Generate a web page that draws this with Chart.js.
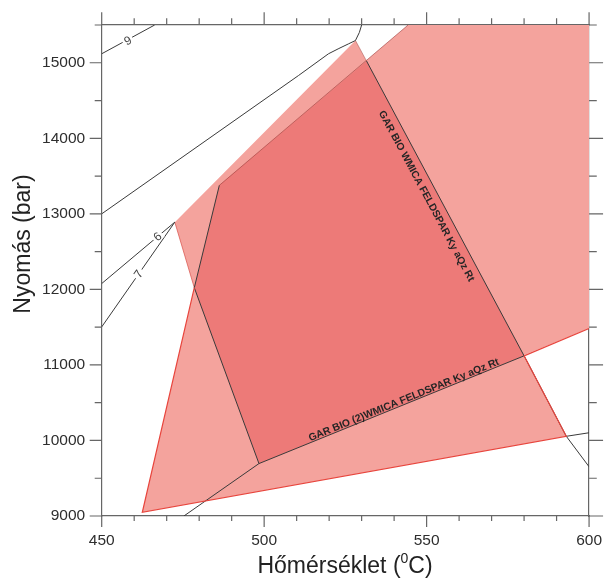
<!DOCTYPE html>
<html>
<head>
<meta charset="utf-8">
<script src="https://cdn.jsdelivr.net/npm/chart.js@4.4.0/dist/chart.umd.min.js"></script>
<style>
  html, body { margin: 0; padding: 0; background: #fff; }
</style>
</head>
<body>
<canvas id="pt" width="606" height="579"></canvas>
<script>
// axis ticks
const xMajorTicks = [450, 500, 550, 600];
const xMinorTicks = [460, 470, 480, 490, 510, 520, 530, 540, 560, 570, 580, 590];
const yMajorTicks = [9000, 10000, 11000, 12000, 13000, 14000, 15000];
const yMinorTicks = [9500, 10500, 11500, 12500, 13500, 14500, 15500];

// coloured fields (T in °C, P in bar)
const fieldA_T = [462.5, 478.5, 472.5, 528.1, 593.0];
const fieldA_P = [9049, 12022, 12890, 15295, 10055];
const fieldB_T = [498.4, 478.5, 486.2, 544.3, 600, 600];
const fieldB_P = [9694, 12022, 13377, 15500, 15500, 11482];
const overlap_T = [498.4, 478.5, 486.2, 531.5, 580.0];
const overlap_P = [9694, 12022, 13377, 15024, 11120];

// phase boundary lines
const iso9_T = [450, 466.3];
const iso9_P = [15119, 15500];
const iso6_T = [450, 472.5];
const iso6_P = [12077, 12890];
const iso7_T = [450, 472.5];
const iso7_P = [11503, 12890];
const upper_T = [450, 510.6, 519.8, 523.0, 525.9, 528.1, 529.3, 530.0];
const upper_P = [13000, 14832, 15119, 15189, 15249, 15295, 15401, 15500];
const lower_T = [475.3, 498.4, 580.0];
const lower_P = [9000, 9694, 11120];
const leftLine_T = [498.4, 478.5, 486.2];
const leftLine_P = [9694, 12022, 13377];
const wmica_T = [531.5, 580.0, 593.0, 600];
const wmica_P = [15024, 11120, 10055, 9652];
const rightLow_T = [593.0, 600];
const rightLow_P = [10055, 10102];

// field edges
const redA_T = [478.5, 462.5, 593.0, 580.0];
const redA_P = [12022, 9049, 10055, 11120];
const redB_T = [580.0, 600];
const redB_P = [11120, 11482];
const faint_T = [472.5, 478.5];
const faint_P = [12890, 12022];
const faintB_T = [486.2, 544.3];
const faintB_P = [13377, 15500];
const faintA_T = [528.1, 531.5];
const faintA_P = [15295, 15024];

// labels
const isoLabels = ['9', '6', '7'];
const isoLabel_T = [458.1, 467.3, 461.5];
const isoLabel_P = [15286, 12694, 12200];
const fieldLabels = ['GAR BIO WMICA FELDSPAR Ky aQz Rt', 'GAR BIO (2)WMICA FELDSPAR Ky aQz Rt'];
const fieldLabel_T = [549.9, 543.0];
const fieldLabel_P = [13234, 10534];

const xTitle = ['Hőmérséklet (', '0', 'C)'];
const yTitle = 'Nyomás (bar)';

const axisColor = '#666';
const lineColor = '#3a3a3a';
const redEdge = '#e8453d';
const fontFam = '"Liberation Sans", Arial, sans-serif';

function pts(xs, ys) {
  return xs.map((v, i) => ({ x: v, y: ys[i] }));
}
function lineSet(xs, ys, color, width) {
  return { data: pts(xs, ys), borderColor: color, borderWidth: width, pointRadius: 0, fill: false, tension: 0 };
}
function fieldSet(xs, ys, color) {
  return { data: pts(xs.concat(xs[0]), ys.concat(ys[0])), borderColor: 'rgba(0,0,0,0)', borderWidth: 0,
           backgroundColor: color, pointRadius: 0, fill: 'shape', tension: 0 };
}

// ticks on all four sides + axis titles
const frameTicks = {
  id: 'frameTicks',
  afterDraw(chart) {
    const { ctx, chartArea: a } = chart;
    const xs = chart.scales.x, ys = chart.scales.y;
    ctx.save();
    ctx.strokeStyle = axisColor;
    ctx.lineWidth = 1.2;
    ctx.beginPath();
    const xTick = (t, lb, lt) => {
      const p = xs.getPixelForValue(t);
      ctx.moveTo(p, a.bottom); ctx.lineTo(p, a.bottom + lb);
      ctx.moveTo(p, a.top); ctx.lineTo(p, a.top - lt);
    };
    const yTick = (v, ll, lr) => {
      const p = ys.getPixelForValue(v);
      ctx.moveTo(a.left, p); ctx.lineTo(a.left - ll, p);
      ctx.moveTo(a.right, p); ctx.lineTo(a.right + lr, p);
    };
    xMajorTicks.forEach(t => xTick(t, 11, 12.7));
    xMinorTicks.forEach(t => xTick(t, 5, 6.7));
    yMajorTicks.forEach(v => yTick(v, 12, 14));
    yMinorTicks.forEach(v => yTick(v, 7, 7.7));
    ctx.stroke();

    ctx.fillStyle = '#222';
    ctx.font = '23px ' + fontFam;
    ctx.save();
    ctx.translate(29.5, 244);
    ctx.rotate(-Math.PI / 2);
    ctx.textAlign = 'center';
    ctx.textBaseline = 'alphabetic';
    ctx.fillText(yTitle, 0, 0);
    ctx.restore();

    const supFont = '14px ' + fontFam;
    const w0 = ctx.measureText(xTitle[0]).width;
    const w2 = ctx.measureText(xTitle[2]).width;
    ctx.font = supFont;
    const w1 = ctx.measureText(xTitle[1]).width;
    const x0 = 345 - (w0 + w1 + w2) / 2;
    const base = 573;
    ctx.textAlign = 'left';
    ctx.font = '23px ' + fontFam;
    ctx.fillText(xTitle[0], x0, base);
    ctx.font = supFont;
    ctx.fillText(xTitle[1], x0 + w0, base - 10);
    ctx.font = '23px ' + fontFam;
    ctx.fillText(xTitle[2], x0 + w0 + w1, base);
    ctx.restore();
  }
};

// labels on the lines
const lineLabels = {
  id: 'lineLabels',
  afterDatasetsDraw(chart) {
    const { ctx } = chart;
    const xs = chart.scales.x, ys = chart.scales.y;
    const angleOf = (tA, pA, tB, pB) => Math.atan2(ys.getPixelForValue(pB) - ys.getPixelForValue(pA),
                                                    xs.getPixelForValue(tB) - xs.getPixelForValue(tA));
    const isoAngles = [
      angleOf(iso9_T[0], iso9_P[0], iso9_T[1], iso9_P[1]),
      angleOf(iso6_T[0], iso6_P[0], iso6_T[1], iso6_P[1]),
      angleOf(iso7_T[0], iso7_P[0], iso7_T[1], iso7_P[1])
    ];
    ctx.save();
    ctx.font = '12px ' + fontFam;
    ctx.textAlign = 'center';
    ctx.textBaseline = 'middle';
    isoLabels.forEach((s, i) => {
      ctx.save();
      ctx.translate(xs.getPixelForValue(isoLabel_T[i]), ys.getPixelForValue(isoLabel_P[i]));
      ctx.rotate(isoAngles[i]);
      const w = ctx.measureText(s).width;
      ctx.fillStyle = '#fff';
      ctx.fillRect(-w / 2 - 2, -4, w + 4, 8);
      ctx.fillStyle = '#444';
      ctx.fillText(s, 0, 0);
      ctx.restore();
    });

    const fieldAngles = [
      angleOf(wmica_T[0], wmica_P[0], wmica_T[1], wmica_P[1]),
      angleOf(lower_T[1], lower_P[1], lower_T[2], lower_P[2])
    ];
    ctx.font = 'bold 10.3px ' + fontFam;
    ctx.fillStyle = '#262626';
    fieldLabels.forEach((s, i) => {
      ctx.save();
      ctx.translate(xs.getPixelForValue(fieldLabel_T[i]), ys.getPixelForValue(fieldLabel_P[i]));
      ctx.rotate(fieldAngles[i]);
      ctx.fillText(s, 0, 0);
      ctx.restore();
    });
    ctx.restore();
  }
};

const tickFont = { size: 15.5, family: fontFam };

new Chart(document.getElementById('pt'), {
  type: 'line',
  data: {
    datasets: [
      lineSet(redA_T, redA_P, redEdge, 1.2),
      lineSet(redB_T, redB_P, redEdge, 1.2),
      lineSet(iso9_T, iso9_P, lineColor, 1),
      lineSet(iso6_T, iso6_P, lineColor, 1),
      lineSet(iso7_T, iso7_P, lineColor, 1),
      lineSet(upper_T, upper_P, lineColor, 1),
      lineSet(lower_T, lower_P, lineColor, 1),
      lineSet(leftLine_T, leftLine_P, lineColor, 1),
      lineSet(wmica_T, wmica_P, lineColor, 1),
      lineSet(rightLow_T, rightLow_P, lineColor, 1),
      lineSet(faint_T, faint_P, 'rgba(215,80,72,0.7)', 1),
      lineSet(faintB_T, faintB_P, 'rgba(150,50,48,0.55)', 1),
      lineSet(faintA_T, faintA_P, 'rgba(150,50,48,0.45)', 1),
      fieldSet(overlap_T, overlap_P, '#ed7a78'),
      fieldSet(fieldB_T, fieldB_P, '#f4a39d'),
      fieldSet(fieldA_T, fieldA_P, '#f4a39d')
    ]
  },
  options: {
    responsive: false,
    animation: false,
    devicePixelRatio: 1,
    layout: { padding: 0 },
    plugins: { legend: { display: false }, tooltip: { enabled: false } },
    scales: {
      x: {
        type: 'linear', position: 'bottom', min: 450, max: 600,
        ticks: { color: '#2e2e2e', font: tickFont, padding: 4, maxRotation: 0, autoSkip: false,
                 callback: v => String(v) },
        afterBuildTicks: s => { s.ticks = xMajorTicks.map(v => ({ value: v })); },
        grid: { display: false, drawTicks: true, tickLength: 11 },
        border: { display: true, color: axisColor, width: 1.2 },
        afterFit: s => { s.height = 63; }
      },
      x2: {
        type: 'linear', position: 'top', min: 450, max: 600,
        ticks: { display: false },
        grid: { display: false, drawTicks: false },
        border: { display: true, color: axisColor, width: 1.2 },
        afterFit: s => { s.height = 25; }
      },
      y: {
        type: 'linear', position: 'left', min: 9000, max: 15500,
        ticks: { color: '#2e2e2e', font: tickFont, padding: 4.5, autoSkip: false,
                 callback: v => String(v) },
        afterBuildTicks: s => { s.ticks = yMajorTicks.map(v => ({ value: v })); },
        grid: { display: false, drawTicks: true, tickLength: 12 },
        border: { display: true, color: axisColor, width: 1.2 },
        afterFit: s => { s.width = 101.7; }
      },
      y2: {
        type: 'linear', position: 'right', min: 9000, max: 15500,
        ticks: { display: false },
        grid: { display: false, drawTicks: false },
        border: { display: true, color: axisColor, width: 1.2 },
        afterFit: s => { s.width = 13.7; }
      }
    }
  },
  plugins: [lineLabels, frameTicks]
});
</script>
</body>
</html>
